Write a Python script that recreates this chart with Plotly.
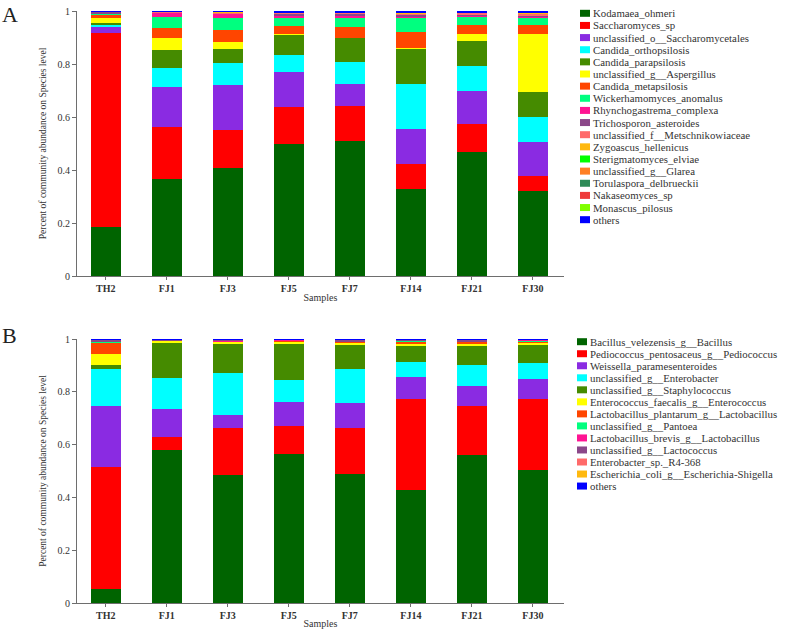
import plotly.graph_objects as go

samples = ["TH2", "FJ1", "FJ3", "FJ5", "FJ7", "FJ14", "FJ21", "FJ30"]
y_ticks = [0, 0.2, 0.4, 0.6, 0.8, 1]
y_tick_text = ["0", "0.2", "0.4", "0.6", "0.8", "1"]

# ---------- Panel A (fungi) ----------
species_a = [
    "Kodamaea_ohmeri", "Saccharomyces_sp", "unclassified_o__Saccharomycetales",
    "Candida_orthopsilosis", "Candida_parapsilosis", "unclassified_g__Aspergillus",
    "Candida_metapsilosis", "Wickerhamomyces_anomalus", "Rhynchogastrema_complexa",
    "Trichosporon_asteroides", "unclassified_f__Metschnikowiaceae", "Zygoascus_hellenicus",
    "Sterigmatomyces_elviae", "unclassified_g__Glarea", "Torulaspora_delbrueckii",
    "Nakaseomyces_sp", "Monascus_pilosus", "others",
]
colors_a = [
    "#006400", "#FF0000", "#8A2BE2", "#00FFFF", "#458B00", "#FFFF00",
    "#FF4500", "#00FF7F", "#FF1493", "#8B4789", "#FF6A6A", "#FFB90F",
    "#00FF00", "#FF7F24", "#2E8B57", "#EE3B3B", "#7FFF00", "#0000FF",
]
#                TH2    FJ1    FJ3    FJ5    FJ7    FJ14   FJ21   FJ30
kodamaea      = [0.186, 0.365, 0.409, 0.498, 0.511, 0.328, 0.467, 0.322]
saccharomyces = [0.732, 0.198, 0.142, 0.141, 0.131, 0.095, 0.108, 0.057]
uncl_o_sacch  = [0.023, 0.151, 0.169, 0.132, 0.081, 0.133, 0.122, 0.128]
c_ortho       = [0.009, 0.070, 0.083, 0.063, 0.086, 0.170, 0.095, 0.094]
c_parap       = [0.003, 0.069, 0.054, 0.078, 0.090, 0.131, 0.096, 0.092]
aspergillus   = [0.022, 0.046, 0.025, 0.002, 0.001, 0.003, 0.026, 0.219]
c_metap       = [0.012, 0.036, 0.046, 0.031, 0.041, 0.062, 0.035, 0.037]
wickerham     = [0.002, 0.044, 0.044, 0.030, 0.034, 0.053, 0.029, 0.026]
rhynchog      = [0.002, 0.014, 0.018, 0.008, 0.006, 0.003, 0.004, 0.004]
trichosporon  = [0.006, 0.003, 0.002, 0.009, 0.010, 0.007, 0.006, 0.004]
metschnik     = [0.001, 0.001, 0.001, 0.002, 0.002, 0.004, 0.005, 0.008]
zygoascus     = [0.001, 0.001, 0.004, 0.002, 0.002, 0.006, 0.003, 0.003]
sterigmato    = [0.000, 0.000, 0.000, 0.000, 0.000, 0.000, 0.000, 0.000]
glarea        = [0.000, 0.000, 0.000, 0.000, 0.000, 0.001, 0.000, 0.000]
torulaspora   = [0.000, 0.000, 0.000, 0.000, 0.000, 0.000, 0.000, 0.000]
nakaseomyces  = [0.000, 0.000, 0.000, 0.000, 0.000, 0.000, 0.000, 0.000]
monascus      = [0.000, 0.000, 0.000, 0.000, 0.000, 0.000, 0.000, 0.000]
others_a      = [0.001, 0.002, 0.003, 0.004, 0.005, 0.004, 0.004, 0.006]
values_a = [kodamaea, saccharomyces, uncl_o_sacch, c_ortho, c_parap, aspergillus,
            c_metap, wickerham, rhynchog, trichosporon, metschnik, zygoascus,
            sterigmato, glarea, torulaspora, nakaseomyces, monascus, others_a]

# ---------- Panel B (bacteria) ----------
species_b = [
    "Bacillus_velezensis_g__Bacillus", "Pediococcus_pentosaceus_g__Pediococcus",
    "Weissella_paramesenteroides", "unclassified_g__Enterobacter",
    "unclassified_g__Staphylococcus", "Enterococcus_faecalis_g__Enterococcus",
    "Lactobacillus_plantarum_g__Lactobacillus", "unclassified_g__Pantoea",
    "Lactobacillus_brevis_g__Lactobacillus", "unclassified_g__Lactococcus",
    "Enterobacter_sp._R4-368", "Escherichia_coli_g__Escherichia-Shigella", "others",
]
colors_b = [
    "#006400", "#FF0000", "#8A2BE2", "#00FFFF", "#458B00", "#FFFF00",
    "#FF4500", "#00FF7F", "#FF1493", "#8B4789", "#FF6A6A", "#FFB90F", "#0000FF",
]
#                TH2    FJ1    FJ3    FJ5    FJ7    FJ14   FJ21   FJ30
bacillus      = [0.053, 0.581, 0.484, 0.566, 0.489, 0.427, 0.559, 0.503]
pediococcus   = [0.461, 0.047, 0.179, 0.103, 0.174, 0.346, 0.187, 0.271]
weissella     = [0.231, 0.108, 0.049, 0.092, 0.095, 0.083, 0.077, 0.073]
enterobacter  = [0.143, 0.116, 0.159, 0.082, 0.130, 0.057, 0.079, 0.061]
staphylo      = [0.013, 0.134, 0.109, 0.140, 0.090, 0.063, 0.073, 0.068]
enterococcus  = [0.044, 0.007, 0.009, 0.007, 0.010, 0.006, 0.008, 0.008]
l_plantarum   = [0.043, 0.001, 0.002, 0.005, 0.002, 0.010, 0.006, 0.008]
pantoea       = [0.001, 0.001, 0.001, 0.001, 0.001, 0.001, 0.001, 0.001]
l_brevis      = [0.002, 0.001, 0.001, 0.001, 0.001, 0.001, 0.002, 0.004]
lactococcus   = [0.006, 0.002, 0.005, 0.001, 0.006, 0.004, 0.005, 0.001]
enterob_r4    = [0.001, 0.001, 0.001, 0.001, 0.001, 0.001, 0.001, 0.001]
e_coli        = [0.001, 0.000, 0.000, 0.000, 0.000, 0.000, 0.001, 0.000]
others_b      = [0.001, 0.001, 0.001, 0.001, 0.001, 0.001, 0.001, 0.001]
values_b = [bacillus, pediococcus, weissella, enterobacter, staphylo, enterococcus,
            l_plantarum, pantoea, l_brevis, lactococcus, enterob_r4, e_coli, others_b]

W, H = 787, 629
SERIF = "Liberation Serif"


def px_x(x):
    return x / W


def px_y(y):
    return 1 - y / H


fig = go.Figure()

for name, col, vals in zip(species_a, colors_a, values_a):
    fig.add_trace(go.Bar(x=samples, y=vals, name=name, marker=dict(color=col, line=dict(width=0)),
                         width=0.49, xaxis="x", yaxis="y", showlegend=False))
for name, col, vals in zip(species_b, colors_b, values_b):
    fig.add_trace(go.Bar(x=samples, y=vals, name=name, marker=dict(color=col, line=dict(width=0)),
                         width=0.49, xaxis="x2", yaxis="y2", showlegend=False))

axis_common = dict(showline=True, linecolor="#6e6e6e", linewidth=1, ticks="outside",
                   ticklen=4, tickcolor="#6e6e6e", showgrid=False, zeroline=False,
                   automargin=False)
xdom = [px_x(77), px_x(564)]
xr = [-0.47, 7.51]
x_common = dict(axis_common, range=xr, domain=xdom, ticklen=3,
                tickfont=dict(family=SERIF, size=10, color="#333", weight="bold"),
                title=dict(text="Samples", font=dict(family=SERIF, size=10, color="#333"), standoff=0))
y_common = dict(axis_common, range=[0, 1], tickvals=y_ticks, ticktext=y_tick_text,
                tickfont=dict(family=SERIF, size=10, color="#333"),
                title=dict(text="Percent of community abundance on Species level",
                           font=dict(family=SERIF, size=9.5, color="#333"), standoff=9))

fig.update_layout(
    width=W, height=H, barmode="stack", bargap=0,
    paper_bgcolor="white", plot_bgcolor="white",
    margin=dict(l=0, r=0, t=0, b=0),
    xaxis=dict(x_common, anchor="y"),
    yaxis=dict(y_common, domain=[px_y(276), px_y(11)], anchor="x"),
    xaxis2=dict(x_common, anchor="y2"),
    yaxis2=dict(y_common, domain=[px_y(603), px_y(339)], anchor="x2"),
)

shapes = []
annotations = []


def add_legend(names, cols, x0, y0, step):
    for i, (n, c) in enumerate(zip(names, cols)):
        yc = y0 + i * step
        shapes.append(dict(type="rect", xref="paper", yref="paper",
                           x0=px_x(x0), x1=px_x(x0 + 10), y0=px_y(yc + 3.5), y1=px_y(yc - 3.5),
                           fillcolor=c, line=dict(width=0)))
        annotations.append(dict(text=n, xref="paper", yref="paper", x=px_x(x0 + 11), y=px_y(yc),
                                xanchor="left", yanchor="middle", showarrow=False,
                                font=dict(family=SERIF, size=10.8, color="#333")))


add_legend(species_a, colors_a, 580, 13.3, 12.14)
add_legend(species_b, colors_b, 577, 341.7, 12.03)

annotations.append(dict(text="A", xref="paper", yref="paper", x=0, y=px_y(14),
                        xanchor="left", yanchor="middle", showarrow=False,
                        font=dict(family=SERIF, size=22, color="#222")))
annotations.append(dict(text="B", xref="paper", yref="paper", x=0, y=px_y(335),
                        xanchor="left", yanchor="middle", showarrow=False,
                        font=dict(family=SERIF, size=22, color="#222")))

fig.update_layout(shapes=shapes, annotations=annotations)
fig.write_html("out.html", config={"displayModeBar": False},
               post_script="document.body.style.margin='0';document.body.style.overflow='hidden';")
